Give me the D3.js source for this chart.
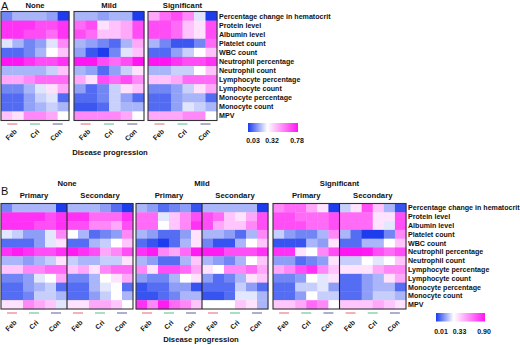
<!DOCTYPE html>
<html>
<head>
<meta charset="utf-8">
<script src="https://cdn.jsdelivr.net/npm/d3@7"></script>
<style>
  body { margin: 0; background: #fff; }
  text { font-family: "Liberation Sans", Arial, sans-serif; fill: #111; }
  .row-label { font-weight: bold; font-size: 7.1px; }
  .title { font-weight: bold; font-size: 7.7px; }
  .tick { font-weight: bold; font-size: 7px; }
  .panel { font-size: 11px; }
</style>
</head>
<body>
<div id="chart"></div>
<script>
const rowLabels = [
  'Percentage change in hematocrit', 'Protein level', 'Albumin level', 'Platelet count',
  'WBC count', 'Neutrophil percentage', 'Neutrophil count', 'Lymphocyte percentage',
  'Lymphocyte count', 'Monocyte percentage', 'Monocyte count', 'MPV'
]
const stageLabels = ['Feb', 'Cri', 'Con']
const severityLabels = ['None', 'Mild', 'Significant']
const infectionLabels = ['Primary', 'Secondary']
const legendA = [0.03, 0.32, 0.78]
const legendB = [0.01, 0.33, 0.90]

// panel A: 12 rows x 6 columns (Feb, Feb, Cri, Cri, Con, Con)
const aNone = [
  [0.14, 0.21, 0.21, 0.21, 0.18, 0.03],
  [0.72, 0.72, 0.72, 0.67, 0.67, 0.72],
  [0.72, 0.72, 0.67, 0.67, 0.61, 0.72],
  [0.28, 0.21, 0.14, 0.18, 0.28, 0.55],
  [0.10, 0.10, 0.14, 0.21, 0.32, 0.44],
  [0.78, 0.78, 0.72, 0.67, 0.67, 0.72],
  [0.21, 0.21, 0.21, 0.21, 0.25, 0.44],
  [0.49, 0.49, 0.55, 0.61, 0.61, 0.61],
  [0.14, 0.14, 0.21, 0.28, 0.38, 0.49],
  [0.10, 0.10, 0.18, 0.25, 0.28, 0.10],
  [0.10, 0.10, 0.18, 0.21, 0.25, 0.21],
  [0.44, 0.38, 0.55, 0.55, 0.49, 0.32]
]
const aMild = [
  [0.21, 0.21, 0.18, 0.21, 0.21, 0.03],
  [0.61, 0.67, 0.38, 0.44, 0.49, 0.67],
  [0.67, 0.61, 0.44, 0.44, 0.49, 0.67],
  [0.21, 0.18, 0.14, 0.10, 0.21, 0.49],
  [0.18, 0.07, 0.03, 0.14, 0.28, 0.44],
  [0.78, 0.78, 0.67, 0.61, 0.67, 0.78],
  [0.21, 0.18, 0.10, 0.18, 0.25, 0.38],
  [0.49, 0.38, 0.67, 0.61, 0.67, 0.55],
  [0.18, 0.10, 0.14, 0.25, 0.38, 0.44],
  [0.10, 0.10, 0.14, 0.25, 0.18, 0.10],
  [0.07, 0.07, 0.10, 0.25, 0.21, 0.21],
  [0.55, 0.55, 0.55, 0.55, 0.49, 0.32]
]
const aSignificant = [
  [0.49, 0.61, 0.67, 0.55, 0.28, 0.03],
  [0.67, 0.67, 0.61, 0.44, 0.38, 0.67],
  [0.67, 0.67, 0.61, 0.44, 0.38, 0.67],
  [0.21, 0.14, 0.07, 0.07, 0.14, 0.61],
  [0.10, 0.10, 0.18, 0.25, 0.32, 0.44],
  [0.78, 0.78, 0.72, 0.67, 0.67, 0.72],
  [0.21, 0.21, 0.25, 0.25, 0.32, 0.44],
  [0.44, 0.44, 0.49, 0.61, 0.61, 0.61],
  [0.14, 0.14, 0.18, 0.25, 0.38, 0.49],
  [0.10, 0.10, 0.18, 0.21, 0.21, 0.10],
  [0.10, 0.10, 0.18, 0.28, 0.25, 0.21],
  [0.49, 0.49, 0.49, 0.55, 0.55, 0.32]
]

// panel B
const bNonePrimary = [
  [0.13, 0.21, 0.21, 0.21, 0.21, 0.01],
  [0.83, 0.83, 0.83, 0.83, 0.76, 0.83],
  [0.83, 0.83, 0.83, 0.76, 0.76, 0.83],
  [0.29, 0.25, 0.17, 0.17, 0.29, 0.62],
  [0.09, 0.09, 0.09, 0.17, 0.29, 0.40],
  [0.83, 0.88, 0.83, 0.76, 0.76, 0.83],
  [0.21, 0.21, 0.17, 0.21, 0.25, 0.40],
  [0.47, 0.47, 0.62, 0.62, 0.69, 0.69],
  [0.13, 0.13, 0.17, 0.29, 0.33, 0.54],
  [0.09, 0.09, 0.17, 0.21, 0.25, 0.09],
  [0.09, 0.09, 0.13, 0.25, 0.25, 0.21],
  [0.40, 0.40, 0.62, 0.54, 0.47, 0.29]
]
const bNoneSecondary = [
  [0.21, 0.21, 0.21, 0.17, 0.09, 0.01],
  [0.83, 0.83, 0.69, 0.69, 0.69, 0.83],
  [0.76, 0.76, 0.62, 0.62, 0.54, 0.76],
  [0.33, 0.21, 0.09, 0.13, 0.17, 0.62],
  [0.09, 0.09, 0.21, 0.25, 0.33, 0.47],
  [0.88, 0.83, 0.76, 0.54, 0.62, 0.76],
  [0.25, 0.21, 0.21, 0.25, 0.25, 0.40],
  [0.47, 0.54, 0.40, 0.62, 0.69, 0.69],
  [0.13, 0.13, 0.21, 0.33, 0.40, 0.54],
  [0.09, 0.09, 0.21, 0.29, 0.33, 0.09],
  [0.09, 0.09, 0.17, 0.25, 0.33, 0.21],
  [0.40, 0.40, 0.54, 0.54, 0.47, 0.33]
]
const bMildPrimary = [
  [0.21, 0.17, 0.09, 0.13, 0.17, 0.05],
  [0.69, 0.69, 0.29, 0.47, 0.62, 0.76],
  [0.69, 0.69, 0.33, 0.47, 0.62, 0.83],
  [0.21, 0.17, 0.09, 0.09, 0.17, 0.40],
  [0.09, 0.05, 0.01, 0.09, 0.21, 0.40],
  [0.83, 0.88, 0.62, 0.54, 0.69, 0.88],
  [0.21, 0.17, 0.09, 0.09, 0.21, 0.47],
  [0.62, 0.40, 0.76, 0.76, 0.69, 0.54],
  [0.17, 0.13, 0.13, 0.21, 0.33, 0.40],
  [0.05, 0.09, 0.09, 0.17, 0.17, 0.05],
  [0.05, 0.05, 0.09, 0.13, 0.21, 0.21],
  [0.83, 0.62, 0.88, 0.69, 0.62, 0.47]
]
const bMildSecondary = [
  [0.21, 0.21, 0.21, 0.21, 0.21, 0.01],
  [0.76, 0.69, 0.47, 0.40, 0.54, 0.76],
  [0.76, 0.54, 0.47, 0.47, 0.62, 0.76],
  [0.21, 0.21, 0.17, 0.09, 0.21, 0.62],
  [0.13, 0.05, 0.05, 0.21, 0.33, 0.47],
  [0.88, 0.88, 0.76, 0.76, 0.76, 0.83],
  [0.21, 0.17, 0.13, 0.21, 0.33, 0.47],
  [0.40, 0.33, 0.62, 0.62, 0.69, 0.54],
  [0.17, 0.09, 0.13, 0.21, 0.40, 0.47],
  [0.09, 0.09, 0.09, 0.25, 0.17, 0.09],
  [0.05, 0.05, 0.09, 0.29, 0.29, 0.21],
  [0.33, 0.33, 0.33, 0.47, 0.40, 0.21]
]
const bSignificantPrimary = [
  [0.62, 0.69, 0.69, 0.54, 0.40, 0.01],
  [0.76, 0.76, 0.69, 0.69, 0.69, 0.76],
  [0.76, 0.76, 0.76, 0.69, 0.69, 0.76],
  [0.25, 0.17, 0.13, 0.13, 0.21, 0.62],
  [0.05, 0.05, 0.05, 0.21, 0.17, 0.40],
  [0.83, 0.83, 0.40, 0.33, 0.62, 0.76],
  [0.17, 0.17, 0.09, 0.13, 0.17, 0.40],
  [0.54, 0.62, 0.76, 0.83, 0.62, 0.47],
  [0.13, 0.13, 0.17, 0.33, 0.29, 0.40],
  [0.09, 0.09, 0.25, 0.25, 0.29, 0.17],
  [0.09, 0.09, 0.17, 0.33, 0.25, 0.25],
  [0.47, 0.47, 0.54, 0.69, 0.62, 0.33]
]
const bSignificantSecondary = [
  [0.25, 0.40, 0.76, 0.47, 0.21, 0.05],
  [0.69, 0.69, 0.69, 0.40, 0.40, 0.76],
  [0.69, 0.69, 0.69, 0.40, 0.29, 0.76],
  [0.21, 0.09, 0.01, 0.01, 0.13, 0.62],
  [0.09, 0.09, 0.21, 0.21, 0.33, 0.47],
  [0.90, 0.90, 0.88, 0.76, 0.69, 0.76],
  [0.25, 0.25, 0.33, 0.29, 0.33, 0.47],
  [0.40, 0.40, 0.40, 0.54, 0.62, 0.62],
  [0.09, 0.09, 0.17, 0.21, 0.40, 0.54],
  [0.09, 0.09, 0.17, 0.21, 0.21, 0.09],
  [0.09, 0.09, 0.17, 0.25, 0.25, 0.21],
  [0.47, 0.47, 0.47, 0.54, 0.47, 0.40]
]

const BLUE = '#1c3cee', WHITE = '#ffffff', MAGENTA = '#ff14f2'
const markColours = ['#e8767a', '#62c594', '#6a6ea6']

const svg = d3.select('#chart').append('svg')
  .attr('width', 520)
  .attr('height', 345)
const defs = svg.append('defs')

function drawHeatmap(values, x0, x1, y0, y1, colour) {
  const x = d3.scaleBand().domain(d3.range(6)).range([x0, x1])
  const y = d3.scaleBand().domain(rowLabels).range([y0, y1])
  const cells = values.flatMap((row, i) => row.map((v, j) => ({ row: rowLabels[i], col: j, v })))
  svg.append('g').selectAll('rect')
    .data(cells)
    .join('rect')
    .attr('x', d => x(d.col))
    .attr('y', d => y(d.row))
    .attr('width', x.bandwidth() + 0.4)
    .attr('height', y.bandwidth() + 0.4)
    .attr('fill', d => colour(d.v))
  return { x, y }
}

function drawFrame(x0, x1, y0, y1) {
  svg.append('rect')
    .attr('x', x0).attr('y', y0)
    .attr('width', x1 - x0).attr('height', y1 - y0)
    .attr('fill', 'none')
    .attr('stroke', '#333')
    .attr('stroke-width', 1.1)
}

function drawTicks(x, markY, labelDy) {
  stageLabels.forEach((t, i) => {
    const cx = x(2 * i) + x.bandwidth()
    svg.append('line')
      .attr('x1', cx - 5).attr('x2', cx + 5)
      .attr('y1', markY).attr('y2', markY)
      .attr('stroke', markColours[i])
      .attr('stroke-width', 1.1)
    svg.append('text')
      .attr('class', 'tick')
      .attr('text-anchor', 'end')
      .attr('transform', `translate(${cx + 5},${markY + labelDy}) rotate(-45)`)
      .text(t)
  })
}

function drawRowLabels(y, lx) {
  svg.append('g').selectAll('text')
    .data(rowLabels)
    .join('text')
    .attr('class', 'row-label')
    .attr('x', lx)
    .attr('y', d => y(d) + y.bandwidth() / 2)
    .attr('dy', '0.35em')
    .text(d => d)
}

function drawLegend(id, colour, domain, x0, x1, y0, h, labelY) {
  const pos = d3.scaleLinear().domain([domain[0], domain[2]]).range([x0, x1])
  const grad = defs.append('linearGradient').attr('id', id)
  domain.forEach(v => {
    grad.append('stop')
      .attr('offset', (pos(v) - x0) / (x1 - x0))
      .attr('stop-color', colour(v))
  })
  svg.append('rect')
    .attr('x', x0).attr('y', y0)
    .attr('width', x1 - x0).attr('height', h)
    .attr('fill', `url(#${id})`)
  const lx = [x0 + 5, x0 + (x1 - x0) * 0.48, x1 - 1]
  domain.forEach((v, i) => {
    svg.append('text')
      .attr('class', 'tick')
      .attr('x', lx[i])
      .attr('y', labelY)
      .attr('text-anchor', 'middle')
      .text(v.toFixed(2))
  })
}

// ---------- panel A ----------
const colourA = d3.scaleLinear().domain(legendA).range([BLUE, WHITE, MAGENTA]).clamp(true)
const aData = [aNone, aMild, aSignificant]
const aX = [[1, 69], [74, 144], [148, 217]]
const aTop = 11.5, aBottom = 120.5

svg.append('text').attr('class', 'panel').attr('x', 1).attr('y', 10).text('A')

let aScales
aData.forEach((vals, k) => {
  const [x0, x1] = aX[k]
  aScales = drawHeatmap(vals, x0, x1, aTop, aBottom, colourA)
  drawFrame(x0, x1, aTop, aBottom)
  drawTicks(aScales.x, 124, 8)
  svg.append('text')
    .attr('class', 'title')
    .attr('x', (x0 + x1) / 2)
    .attr('y', 8)
    .attr('text-anchor', 'middle')
    .text(severityLabels[k])
})
drawRowLabels(aScales.y, 219)

svg.append('text')
  .attr('class', 'title')
  .attr('x', 110).attr('y', 155)
  .attr('text-anchor', 'middle')
  .text('Disease progression')

drawLegend('grad-a', colourA, legendA, 248, 298, 123, 9, 142.5)

// ---------- panel B ----------
const colourB = d3.scaleLinear().domain(legendB).range([BLUE, WHITE, MAGENTA]).clamp(true)
const bData = [
  [bNonePrimary, bNoneSecondary],
  [bMildPrimary, bMildSecondary],
  [bSignificantPrimary, bSignificantSecondary]
]
const bX = [[1, 67, 133], [136, 202, 268], [273, 339.5, 406]]
const bTop = 203.5, bBottom = 309

svg.append('text').attr('class', 'panel').attr('x', 1).attr('y', 195).text('B')

let bScales
bData.forEach((pair, k) => {
  const [x0, xm, x1] = bX[k]
  pair.forEach((vals, s) => {
    const a = s === 0 ? x0 : xm
    const b = s === 0 ? xm : x1
    bScales = drawHeatmap(vals, a, b, bTop, bBottom, colourB)
    drawTicks(bScales.x, 313, 10)
    svg.append('text')
      .attr('class', 'title')
      .attr('x', (a + b) / 2)
      .attr('y', 198)
      .attr('text-anchor', 'middle')
      .text(infectionLabels[s])
  })
  drawFrame(x0, x1, bTop, bBottom)
  svg.append('line')
    .attr('x1', xm).attr('x2', xm)
    .attr('y1', bTop).attr('y2', bBottom)
    .attr('stroke', '#222')
    .attr('stroke-width', 1.1)
  svg.append('text')
    .attr('class', 'title')
    .attr('x', (x0 + x1) / 2)
    .attr('y', 185.5)
    .attr('text-anchor', 'middle')
    .text(severityLabels[k])
})
drawRowLabels(bScales.y, 408)

svg.append('text')
  .attr('class', 'title')
  .attr('x', 201).attr('y', 342)
  .attr('text-anchor', 'middle')
  .text('Disease progression')

drawLegend('grad-b', colourB, legendB, 436, 485, 313, 8.5, 333.5)
</script>
</body>
</html>
